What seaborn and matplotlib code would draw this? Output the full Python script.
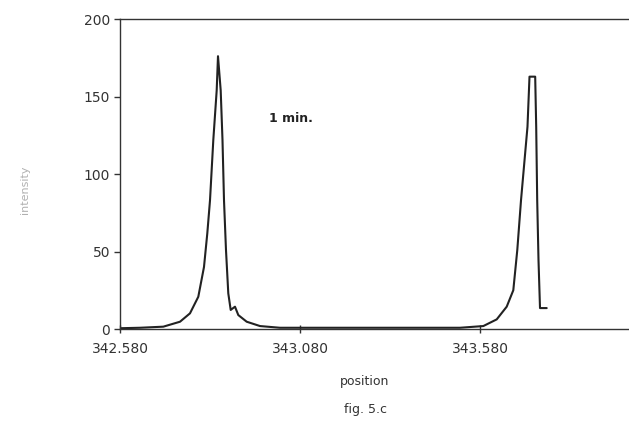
import matplotlib
matplotlib.use("Agg")
import matplotlib.pyplot as plt
import seaborn as sns
import pandas as pd

# Data (position vs intensity)
position = [342.5800, 342.6356, 342.7003, 342.7467, 342.7744, 342.7975, 342.8133,
            342.8225, 342.8300, 342.8392, 342.8486, 342.8522, 342.8597, 342.8647,
            342.8689, 342.8744, 342.8808, 342.8875, 342.8994, 342.9086, 342.9319,
            342.9689, 343.0244, 343.0800, 343.3578, 343.5244,
            343.5892, 343.6264, 343.6542, 343.6725, 343.6836, 343.6939, 343.7119,
            343.7175, 343.7333, 343.7361, 343.7389, 343.7425, 343.7467, 343.7653]
intensity = [0.5, 0.8, 1.5, 4.7, 10.1, 20.8, 40.0,
             61.7, 83.0, 122.0, 154.0, 176.0, 154.0, 122.0,
             83.0, 51.0, 23.0, 12.3, 14.4, 9.0, 4.7,
             1.9, 0.8, 0.8, 0.8, 0.8,
             1.9, 6.2, 14.4, 25.0, 51.0, 83.0, 130.5,
             162.8, 162.8, 130.5, 83.0, 44.5, 13.5, 13.5]

x_ticks = [342.580, 343.080, 343.580]
x_tick_labels = ["342.580", "343.080", "343.580"]
y_ticks = [0, 50, 100, 150, 200]
y_tick_labels = ["0", "50", "100", "150", "200"]

sns.set_style("white")
plt.rcParams['font.family'] = ['DejaVu Sans']

df = pd.DataFrame({"position": position, "intensity": intensity})

fig = plt.figure(figsize=(6.29, 4.23), dpi=100)
ax = fig.add_axes([120/629, 1 - 329/423, 1 - 120/629, (329 - 19)/423])

sns.lineplot(data=df, x="position", y="intensity", ax=ax, color="#222222",
             linewidth=1.5, sort=False)

ax.set_xlim(342.580, 342.580 + 509/360)
ax.set_ylim(0, 200)
ax.set_xticks(x_ticks)
ax.set_xticklabels(x_tick_labels)
ax.set_yticks(y_ticks)
ax.set_yticklabels(y_tick_labels)

for s in ["left", "bottom", "top"]:
    ax.spines[s].set_visible(True)
    ax.spines[s].set_color("#333333")
    ax.spines[s].set_linewidth(1.0)
ax.spines["right"].set_visible(False)

ax.tick_params(axis="y", direction="out", length=4, width=1, color="#333333",
               labelsize=10, labelcolor="#333333", pad=3, left=True)
ax.tick_params(axis="x", direction="inout", length=6, width=1, color="#333333",
               labelsize=10, labelcolor="#333333", pad=6, bottom=True)

ax.set_xlabel("position", fontsize=9, color="#333333")
ax.xaxis.set_label_coords((365 - 120) / 509, -(375 - 329) / 310)
ax.set_ylabel("")
fig.text(25/629, 1 - 190/423, "intensity", rotation=90, fontsize=8,
         color="#b0b0b0", ha="center", va="center")
fig.text(365/629, 1 - 409/423, "fig. 5.c", fontsize=9, color="#333333",
         ha="center", va="center")
ax.text(342.580 + (291 - 120)/360, (329 - 118)/1.55, "1 min.", fontsize=9,
        fontweight="bold", color="#222222", ha="center", va="center")

fig.savefig("out.png", dpi=100)
